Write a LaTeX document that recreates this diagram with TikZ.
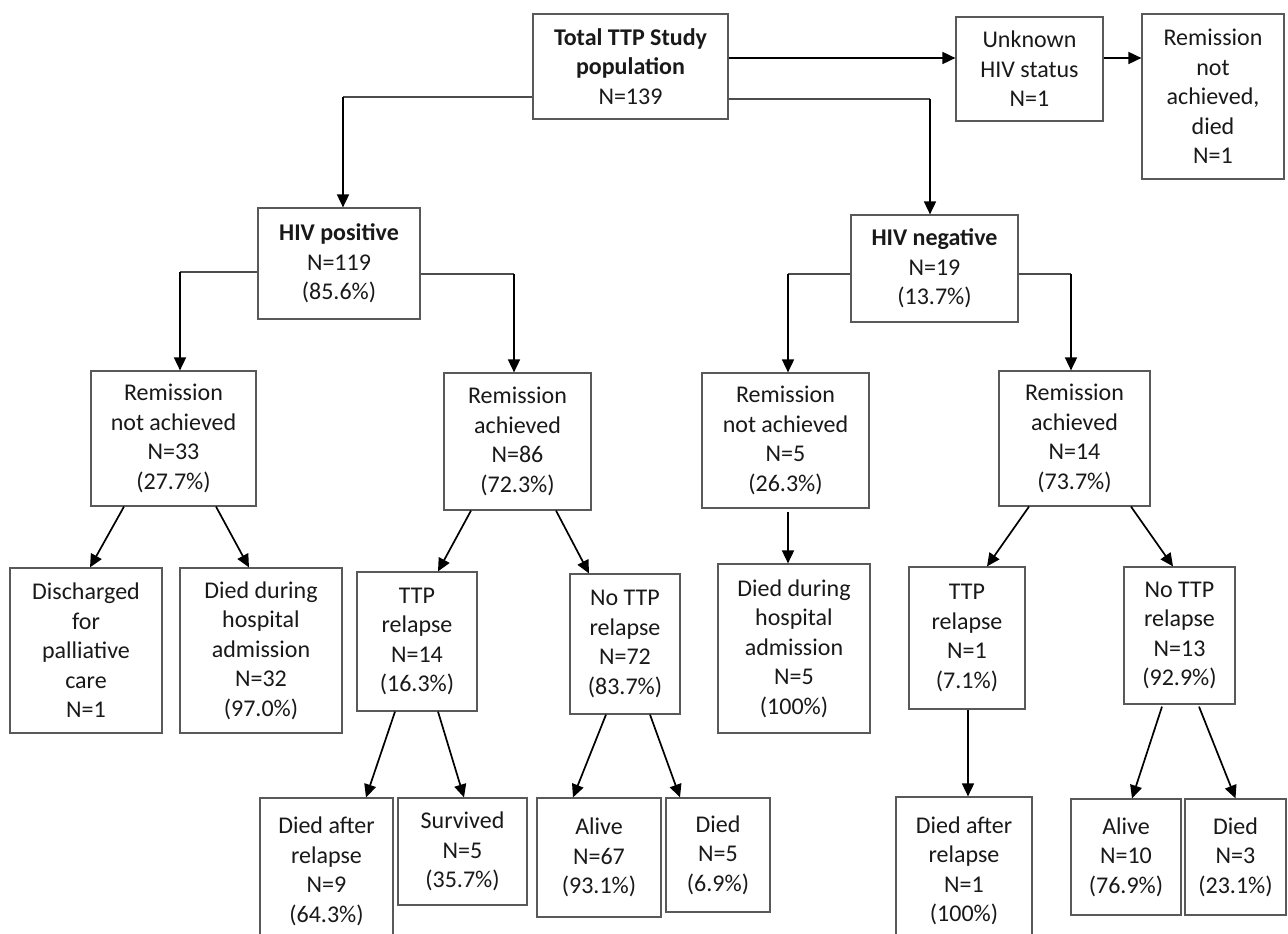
\documentclass[tikz,border=0pt]{standalone}
\usepackage{fontspec}
\setmainfont{Carlito}
\usetikzlibrary{arrows.meta,calc}
\begin{document}
\begin{tikzpicture}[x=1pt,y=-1pt,
 box/.style={draw=black!65, line width=1.2pt, inner sep=0pt, align=center, font=\fontsize{24}{29.5}\selectfont, text=black!90},
 arr/.style={line width=1.7pt, draw=black, -{Triangle[length=13pt,width=12pt]}},
 seg/.style={line width=1.1pt, draw=black!70}]
\useasboundingbox (0,0) rectangle (1288,934);
\fill[white] (0,0) rectangle (1288,934);
\clip (0,0) rectangle (1288,934);

% top level
\node[box, minimum width=195pt, minimum height=105pt] (total) at (630.5,66.5) {\textbf{Total TTP Study}\\\textbf{population}\\N=139};
\node[box, minimum width=147pt, minimum height=104pt] (unknown) at (1029.5,69) {Unknown\\HIV status\\N=1};
\node[box, minimum width=142pt, minimum height=165pt] (rnad) at (1213,96.5) {Remission\\not\\achieved,\\died\\N=1};

% HIV status
\node[box, minimum width=162pt, minimum height=111pt] (hivpos) at (339,263.5) {\textbf{HIV positive}\\N=119\\(85.6\%)};
\node[box, minimum width=167pt, minimum height=107pt] (hivneg) at (934.5,268.5) {\textbf{HIV negative}\\N=19\\(13.7\%)};

% remission
\node[box, minimum width=165pt, minimum height=135pt] (rnap) at (173.5,438.5) {Remission\\not achieved\\N=33\\(27.7\%)};
\node[box, minimum width=147pt, minimum height=137pt] (rap) at (517.5,441.5) {Remission\\achieved\\N=86\\(72.3\%)};
\node[box, minimum width=167pt, minimum height=135pt] (rnan) at (785.5,440.5) {Remission\\not achieved\\N=5\\(26.3\%)};
\node[box, minimum width=151pt, minimum height=135pt] (ran) at (1074.5,438.5) {Remission\\achieved\\N=14\\(73.7\%)};

% third level
\node[box, minimum width=152pt, minimum height=165pt] (disch) at (86,650.5) {Discharged\\for\\palliative\\care\\N=1};
\node[box, minimum width=162pt, minimum height=165pt] (diedp) at (261,650.5) {Died during\\hospital\\admission\\N=32\\(97.0\%)};
\node[box, minimum width=120pt, minimum height=139pt] (ttpp) at (417,641.5) {TTP\\relapse\\N=14\\(16.3\%)};
\node[box, minimum width=110pt, minimum height=140pt] (nottpp) at (625,644) {No TTP\\relapse\\N=72\\(83.7\%)};
\node[box, minimum width=152pt, minimum height=169pt] (diedn) at (794,648.5) {Died during\\hospital\\admission\\N=5\\(100\%)};
\node[box, minimum width=116pt, minimum height=142pt] (ttpn) at (967,638) {TTP\\relapse\\N=1\\(7.1\%)};
\node[box, minimum width=111pt, minimum height=137pt] (nottpn) at (1179.5,635.5) {No TTP\\relapse\\N=13\\(92.9\%)};

% bottom level
\node[box, minimum width=133pt, minimum height=147pt] (darp) at (326.5,871.5) {Died after\\relapse\\N=9\\(64.3\%)};
\node[box, minimum width=129pt, minimum height=107pt] (surv) at (462.5,851.5) {Survived\\N=5\\(35.7\%)};
\node[box, minimum width=124pt, minimum height=119pt] (alivep) at (599,857.5) {Alive\\N=67\\(93.1\%)};
\node[box, minimum width=104pt, minimum height=114pt] (diedp2) at (718,855) {Died\\N=5\\(6.9\%)};
\node[box, minimum width=136pt, minimum height=148pt] (darn) at (964,871) {Died after\\relapse\\N=1\\(100\%)};
\node[box, minimum width=110pt, minimum height=116pt] (aliven) at (1126,857) {Alive\\N=10\\(76.9\%)};
\node[box, minimum width=101pt, minimum height=116pt] (diedn2) at (1235.5,857) {Died\\N=3\\(23.1\%)};

% connectors from the top box
\coordinate (s1) at ($(total.west)+(0,30.5)$);
\coordinate (c1) at ([xshift=4pt]hivpos.north |- s1);
\draw[seg] (s1) -- (c1);
\draw[arr] (c1) -- ([xshift=4pt]hivpos.north);
\coordinate (s2) at ($(total.east)+(0,-8.5)$);
\draw[arr] (s2) -- (s2 -| unknown.west);
\coordinate (s3) at ($(unknown.east)+(0,-11)$);
\draw[arr] (s3) -- (s3 -| rnad.west);
\coordinate (s4) at ($(total.east)+(0,32.5)$);
\coordinate (c2) at ([xshift=-4.5pt]hivneg.north |- s4);
\draw[seg] (s4) -- (c2);
\draw[arr] (c2) -- ([xshift=-4.5pt]hivneg.north);

% HIV status to remission
\coordinate (s5) at ($(hivpos.west)+(0,8.5)$);
\coordinate (c3) at ([xshift=6.5pt]rnap.north |- s5);
\draw[seg] (s5) -- (c3);
\draw[arr] (c3) -- ([xshift=6.5pt]rnap.north);
\coordinate (s6) at ($(hivpos.east)+(0,10.5)$);
\coordinate (c4) at ([xshift=-3.5pt]rap.north |- s6);
\draw[seg] (s6) -- (c4);
\draw[arr] (c4) -- ([xshift=-3.5pt]rap.north);
\coordinate (s7) at ($(hivneg.west)+(0,5.5)$);
\coordinate (c5) at ([xshift=2.5pt]rnan.north |- s7);
\draw[seg] (s7) -- (c5);
\draw[arr] (c5) -- ([xshift=2.5pt]rnan.north);
\coordinate (s8) at ($(hivneg.east)+(0,5.5)$);
\coordinate (c6) at ([xshift=-3.5pt]ran.north |- s8);
\draw[seg] (s8) -- (c6);
\draw[arr] (c6) -- ([xshift=-3.5pt]ran.north);

% remission to third level
\draw[arr] ($(rnap.south)+(-49.5,0)$) -- ($(disch.north)+(4,0)$);
\draw[arr] ($(rnap.south)+(42.5,0)$) -- ($(diedp.north)+(-12,0)$);
\draw[arr] ($(rap.south)+(-46.5,0)$) -- ($(ttpp.north)+(21,0)$);
\draw[arr] ($(rap.south)+(38.5,0)$) -- ($(nottpp.north)+(-36,0)$);
\coordinate (s9) at ($(rnan.south)+(2.5,3)$);
\draw[arr] (s9) -- (s9 |- diedn.north);
\draw[arr] ($(ran.south)+(-45.5,0)$) -- ($(ttpn.north)+(20,0)$);
\draw[arr] ($(ran.south)+(56.5,0)$) -- ($(nottpn.north)+(-6.5,0)$);

% third level to bottom
\draw[arr] ($(ttpp.south)+(-22,0)$) -- ($(darp.north)+(39.5,0)$);
\draw[arr] ($(ttpp.south)+(21,0)$) -- ($(surv.north)+(1.5,0)$);
\draw[arr] ($(nottpp.south)+(-19,0)$) -- ($(alivep.north)+(-26,0)$);
\draw[arr] ($(nottpp.south)+(25,0)$) -- ($(diedp2.north)+(-38,0)$);
\coordinate (s10) at ($(ttpn.south)+(1,0)$);
\draw[arr] (s10) -- (s10 |- darn.north);
\draw[arr] ($(nottpn.south)+(-17.5,2)$) -- ($(aliven.north)+(6,0)$);
\draw[arr] ($(nottpn.south)+(19.5,2)$) -- (diedn2.north);
\end{tikzpicture}
\end{document}
